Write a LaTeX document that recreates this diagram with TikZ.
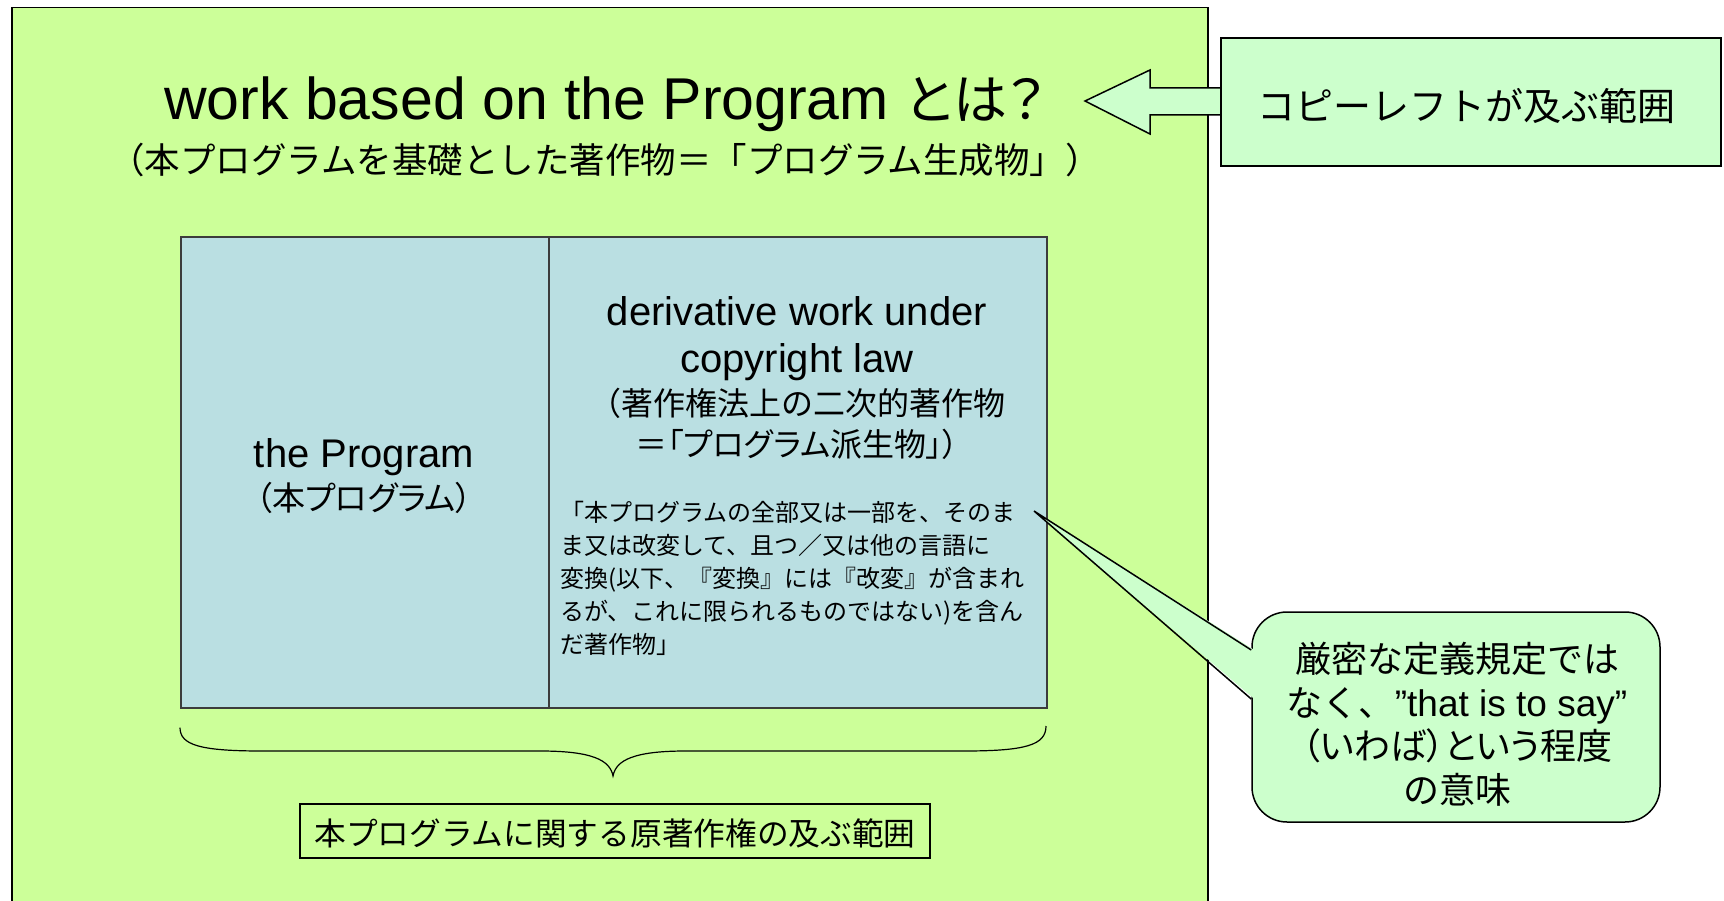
\documentclass[tikz,border=0pt]{standalone}
\usepackage{fontspec}
\setmainfont{Liberation Sans}
\newfontfamily\jpp{Noto Sans CJK JP}[RawFeature=+palt]
\newfontfamily\jp{Noto Sans CJK JP}
\usetikzlibrary{calc}
\definecolor{bglime}{RGB}{204,255,153}
\definecolor{mintgreen}{RGB}{204,255,204}
\definecolor{boxblue}{RGB}{186,223,226}
\definecolor{boxedge}{RGB}{60,60,60}
\tikzset{
  innerbox/.style={draw=boxedge, fill=boxblue, line width=1.6pt, inner sep=0pt, anchor=north west},
  greenbox/.style={draw=black, fill=mintgreen, line width=1.5pt, inner sep=0pt},
  plain/.style={inner sep=0pt, outer sep=0pt},
}
\begin{document}
\begin{tikzpicture}[x=1pt,y=-1pt]
\useasboundingbox (0,0) rectangle (1724,901);
\fill[white] (0,0) rectangle (1724,901);
% outer green area
\node[draw=black, fill=bglime, line width=1.5pt, inner sep=0pt, anchor=north west,
      minimum width=1196pt, minimum height=960pt] (outer) at (11,7) {};
% title
\node[plain, font=\fontsize{59}{70}\selectfont] (title) at (605,104) {work based on the Program {\jpp\fontsize{54}{64}\selectfont とは？}};
\node[plain, font=\jp\fontsize{35.5}{40}\selectfont] (subtitle) at (605,160) {（本プログラムを基礎とした著作物＝「プログラム生成物」）};
% arrow + copyleft box
\coordinate (cltip) at (1085,101);
\draw[fill=mintgreen, line width=1.5pt] (cltip) -- (1150,70) -- (1150,88) -- (1230,88) -- (1230,115) -- (1150,115) -- (1150,134) -- cycle;
\node[greenbox, minimum width=500pt, minimum height=128pt] (copyleft) at (1471,102) {};
\node[plain, font=\jp\fontsize{38}{44}\selectfont] (copylefttxt) at (1466,106) {コピーレフトが及ぶ範囲};
% inner boxes
\node[innerbox, minimum width=368pt, minimum height=471pt] (prog) at (180,236) {};
\node[innerbox, minimum width=498pt, minimum height=471pt] (deriv) at (548,236) {};
\node[plain, font=\fontsize{40}{47}\selectfont] (progtxt) at (364,457) {the Program};
\node[plain, font=\jpp\fontsize{33}{38}\selectfont] (progjp) at (364,498) {（本プログラム）};
\node[plain, align=center, font=\fontsize{40}{47}\selectfont] (derivtxt) at (797,339) {derivative work under\\copyright law};
\node[plain, align=center, font=\jp\fontsize{32}{41}\selectfont] (derivjp) at (797,424) {（著作権法上の二次的著作物\\{\jpp＝「プログラム派生物」）}};
\node[plain, align=left, anchor=north west, font=\jp\fontsize{24}{33}\selectfont] (quote) at (560,501) {%
「本プログラムの全部又は一部を、そのま\\
ま又は改変して、且つ／又は他の言語に\\
変換(以下、『変換』には『改変』が含まれ\\
るが、これに限られるものではない)を含ん\\
だ著作物」};
% brace
\draw[line width=1.2pt] (prog.south west) ++(0,19) coordinate (bl)
  .. controls (180,745) and (200,751) .. (262,751) -- (540,751)
  .. controls (592,751) and (610,760) .. (613,776) coordinate (btip)
  .. controls (616,760) and (634,751) .. (686,751) -- (964,751)
  .. controls (1026,751) and (1046,745) .. (1046,726) coordinate (br);
\node[draw=black, line width=1.2pt, minimum width=630pt, minimum height=54pt, inner sep=0pt] (scope) at (615,831) {};
\node[plain, font=\jp\fontsize{31.7}{38}\selectfont] (scopetxt) at (615,833) {本プログラムに関する原著作権の及ぶ範囲};
% callout
\node[greenbox, rounded corners=35pt, minimum width=408pt, minimum height=210pt] (note) at (1456,717) {};
\node[plain, align=center, font=\jp\fontsize{36}{43.5}\selectfont] (notetxt) at (1457,724)
  {厳密な定義規定では\\なく、{\rmfamily\fontsize{37}{43.5}\selectfont ”that is to say”}\\{\jpp（いわば）という程度}\\の意味};
\coordinate (ptip) at (1034,511);
\fill[mintgreen] (ptip) -- ([xshift=3pt,yshift=67pt]note.west) -- ([xshift=3pt,yshift=18pt]note.west) -- cycle;
\draw[line width=1.5pt, line join=miter] ([yshift=67pt]note.west) -- (ptip) -- ([yshift=18pt]note.west);
\end{tikzpicture}
\end{document}
